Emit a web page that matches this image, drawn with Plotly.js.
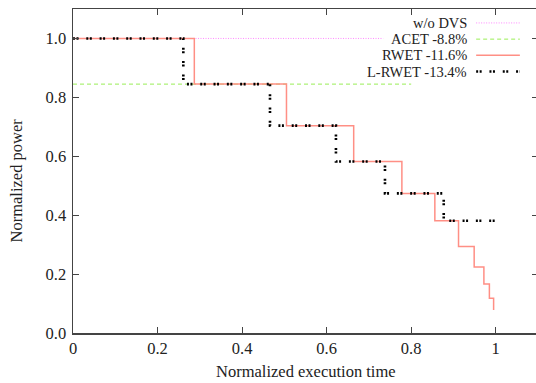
<!DOCTYPE html>
<html>
<head>
<meta charset="utf-8">
<script src="https://cdn.plot.ly/plotly-3.0.1.min.js"></script>
<style>
html,body{margin:0;padding:0;overflow:hidden;background:#fff;}
#chart{width:540px;height:383px;}
</style>
</head>
<body>
<div id="chart"></div>
<script>
// Data
const seriesNames = ["w/o DVS", "ACET -8.8%", "RWET -11.6%", "L-RWET -13.4%"];
const noDvsX = [0, 1.0];
const noDvsY = [1.0, 1.0];
const acetX = [0, 0.8];
const acetY = [0.845, 0.845];
const rwetX = [0, 0.287, 0.505, 0.664, 0.778, 0.856, 0.912, 0.949, 0.972, 0.985, 0.995, 0.998];
const rwetY = [1.0, 0.845, 0.704, 0.582, 0.474, 0.381, 0.294, 0.224, 0.166, 0.118, 0.078, 0.078];
const lrwetX = [0, 0.261, 0.466, 0.622, 0.738, 0.877, 0.998];
const lrwetY = [1.0, 0.845, 0.704, 0.582, 0.474, 0.381, 0.381];
const xTickVals = [0, 0.2, 0.4, 0.6, 0.8, 1];
const yTickVals = [0, 0.2, 0.4, 0.6, 0.8, 1.0];

const serif = "Liberation Serif";
const fs = 16.5;
const legFs = 14.5;
const styles = [
  {color: "#ff88ff", width: 1, dash: "1px,1.5px"},
  {color: "#99ee55", width: 1, dash: "4px,3px"},
  {color: "#ff8f85", width: 1.5, dash: "solid"},
  {color: "#000000", width: 2.6, dash: "2px,1.5px,2px,7.8px"}
];

const traces = [
  {x: noDvsX, y: noDvsY, mode: "lines", line: styles[0], name: seriesNames[0]},
  {x: acetX, y: acetY, mode: "lines", line: styles[1], name: seriesNames[1]},
  {x: rwetX.slice(0, -1), y: rwetY.slice(0, -1), mode: "lines", line: Object.assign({shape: "hv"}, styles[2]), name: seriesNames[2]},
  {x: lrwetX, y: lrwetY, mode: "lines", line: Object.assign({shape: "hv"}, styles[3]), name: seriesNames[3]}
];

// Legend (gnuplot-style: text right-aligned, sample to its right)
const legRowsY = [0.957, 0.907, 0.857, 0.807];
const shapes = [{
  type: "rect", xref: "paper", yref: "paper", x0: 0.667, x1: 0.975, y0: 0.79, y1: 0.975,
  fillcolor: "#ffffff", line: {width: 0}, layer: "above"
}];
const annotations = [];
seriesNames.forEach((n, i) => {
  annotations.push({xref: "paper", yref: "paper", x: 0.849, y: legRowsY[i], xanchor: "right", yanchor: "middle",
    text: n, showarrow: false, borderpad: 0, font: {family: serif, size: legFs, color: "#222"}});
  shapes.push({type: "line", xref: "paper", yref: "paper", x0: 0.867, x1: 0.961, y0: legRowsY[i], y1: legRowsY[i],
    line: {color: styles[i].color, width: styles[i].width, dash: styles[i].dash}, layer: "above"});
});
annotations.push({xref: "paper", yref: "paper", x: -0.121, y: 0.47, xanchor: "center", yanchor: "middle",
  text: "Normalized power", textangle: -90, showarrow: false, font: {family: serif, size: fs, color: "#222"}});
annotations.push({xref: "paper", yref: "paper", x: 0.5, y: -0.12, xanchor: "center", yanchor: "middle",
  text: "Normalized execution time", showarrow: false, font: {family: serif, size: fs, color: "#222"}});

const axisCommon = {
  showgrid: false, zeroline: false, showline: true, linecolor: "#444", linewidth: 1.5,
  mirror: "ticks", ticks: "inside", ticklen: 6, tickwidth: 1, tickcolor: "#444",
  tickfont: {family: serif, size: fs, color: "#222"}
};

const layout = {
  width: 540, height: 383,
  margin: {l: 73, r: 2, t: 9, b: 50},
  paper_bgcolor: "#fff", plot_bgcolor: "#fff",
  showlegend: false,
  font: {family: serif},
  xaxis: Object.assign({}, axisCommon, {range: [0, 1.1], tickvals: xTickVals, ticktext: xTickVals.map(String)}),
  yaxis: Object.assign({}, axisCommon, {range: [0, 1.1], tickvals: yTickVals, tickformat: ".1f", ticklabelstandoff: 2}),
  shapes: shapes,
  annotations: annotations
};

Plotly.newPlot("chart", traces, layout, {staticPlot: true, displayModeBar: false});
</script>
</body>
</html>
